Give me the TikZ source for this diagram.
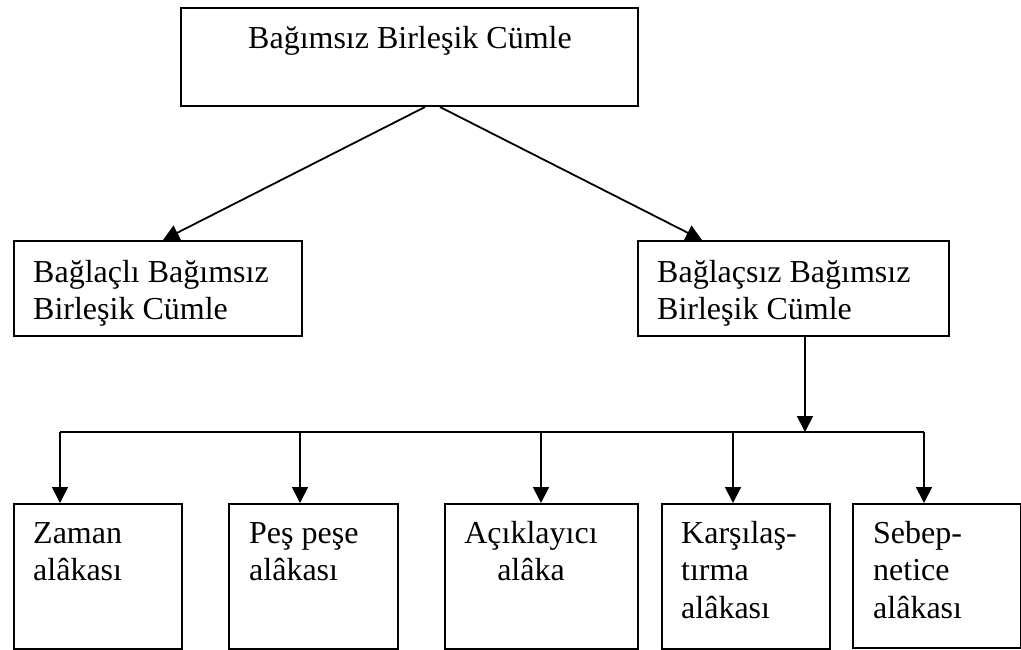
\documentclass[tikz,border=0pt]{standalone}
\usepackage{fontspec}
\setmainfont{Liberation Serif}
\usetikzlibrary{arrows.meta}
\tikzset{
  box/.style={draw, line width=2pt, inner sep=0pt, anchor=north west},
  txt/.style={inner sep=0pt, anchor=base west, align=left, font=\fontsize{32}{37.5}\selectfont},
  txtc/.style={inner sep=0pt, anchor=base, align=center, font=\fontsize{32}{37.5}\selectfont},
  conn/.style={line width=1.8pt},
  arr/.style={line width=1.8pt, -{Triangle[length=16pt,width=16pt]}}
}
\begin{document}
\begin{tikzpicture}[x=1pt,y=-1pt]
\useasboundingbox (0,0) rectangle (1021,649);
% boxes
\node[box, minimum width=457pt, minimum height=98pt] (top) at (180,7) {};
\node[box, minimum width=288pt, minimum height=95pt] (left) at (13,240) {};
\node[box, minimum width=311pt, minimum height=95pt] (right) at (637,240) {};
\node[box, minimum width=168pt, minimum height=145pt] (b1) at (13,503) {};
\node[box, minimum width=169pt, minimum height=145pt] (b2) at (228,503) {};
\node[box, minimum width=193pt, minimum height=145pt] (b3) at (444,503) {};
\node[box, minimum width=168pt, minimum height=145pt] (b4) at (661,503) {};
\node[box, minimum width=168pt, minimum height=144pt] (b5) at (852,503) {};
% texts (anchored at the baseline of the last line)
\node[txt] (ttop) at (248,48) {Bağımsız Birleşik Cümle};
\node[txt] (tleft) at (33,319.5) {Bağlaçlı Bağımsız\\Birleşik Cümle};
\node[txt] (tright) at (657,319.5) {Bağlaçsız Bağımsız\\Birleşik Cümle};
\node[txt] (tb1) at (33,580.5) {Zaman\\alâkası};
\node[txt] (tb2) at (249,580.5) {Peş peşe\\alâkası};
\node[txtc] (tb3) at (531,580.5) {Açıklayıcı\\alâka};
\node[txt] (tb4) at (681,618) {Karşılaş-\\tırma\\alâkası};
\node[txt] (tb5) at (873,618) {Sebep-\\netice\\alâkası};
% connectors
\draw[arr] (top.south -| 425,0) -- (left.north -| 163,0);
\draw[arr] (top.south -| 440,0) -- (right.north -| 702,0);
\coordinate (bus) at (805,432);
\coordinate (busL) at (60,432);
\coordinate (busR) at (924,432);
\draw[arr] (right.south -| bus) -- (bus);
\draw[conn] (busL) -- (busR);
\draw[arr] (busL) -- (b1.north -| busL);
\draw[arr] (300,432) -- (b2.north -| 300,0);
\draw[arr] (541,432) -- (b3.north -| 541,0);
\draw[arr] (733,432) -- (b4.north -| 733,0);
\draw[arr] (busR) -- (b5.north -| busR);
\end{tikzpicture}
\end{document}
